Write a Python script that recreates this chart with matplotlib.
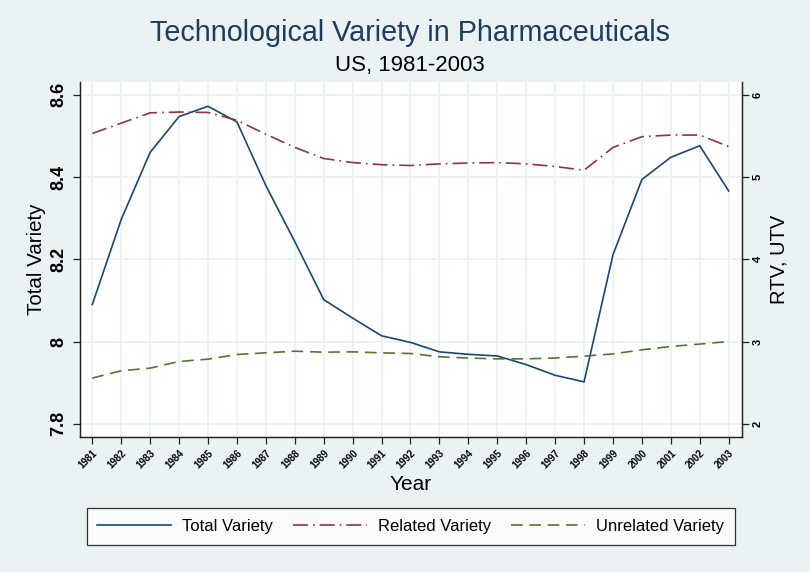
import numpy as np
import matplotlib
matplotlib.use("Agg")
import matplotlib.pyplot as plt
from matplotlib.lines import Line2D

# values
years = list(range(1981, 2004))
total_variety = [8.090, 8.297, 8.460, 8.547, 8.572, 8.534, 8.379, 8.243, 8.102, 8.057,
                 8.014, 7.998, 7.975, 7.969, 7.965, 7.944, 7.918, 7.902, 8.211, 8.394,
                 8.448, 8.476, 8.366]
related_variety = [5.53, 5.655, 5.78, 5.79, 5.785, 5.69, 5.52, 5.36, 5.225, 5.176,
                   5.15, 5.14, 5.16, 5.17, 5.175, 5.16, 5.128, 5.083, 5.36, 5.49,
                   5.51, 5.51, 5.37]
unrelated_variety = [2.556, 2.645, 2.677, 2.758, 2.786, 2.843, 2.863, 2.883, 2.871, 2.875,
                     2.863, 2.855, 2.815, 2.80, 2.79, 2.79, 2.80, 2.823, 2.85, 2.90,
                     2.94, 2.97, 3.0]
left_ticks = [7.8, 8.0, 8.2, 8.4, 8.6]
left_labels = ["7.8", "8", "8.2", "8.4", "8.6"]
right_ticks = [2, 3, 4, 5, 6]

BG = "#EAF2F3"
NAVY = "#1A476F"
MAROON = "#90353B"
GREEN = "#55752F"

plt.rcParams['font.family'] = ['Liberation Sans', 'DejaVu Sans']

fig = plt.figure(figsize=(8.1, 5.72), dpi=100, facecolor=BG)
ax = fig.add_axes([80 / 810, 1 - 437 / 572, 661.7 / 810, 355 / 572])
ax.set_facecolor("white")

ax.plot(years, total_variety, color=NAVY, lw=1.2, solid_joinstyle="miter")
ax.set_xlim(1980.575, 2003.45)
ax.set_ylim(7.768, 8.631)
ax.set_yticks(left_ticks)
ax.set_yticklabels(left_labels, rotation=90, va="center", fontsize=13, fontweight="bold")
ax.set_xticks(years)
ax.set_xticklabels([str(y) for y in years], rotation=45, ha="right", rotation_mode="anchor",
                   fontsize=7, fontweight="bold")
ax.grid(True, color=BG, lw=1.3)
ax.set_axisbelow(True)
ax.tick_params(axis="both", direction="out", length=5, width=0.9, color="#222222")
ax.tick_params(axis="x", pad=3)
ax.tick_params(axis="y", pad=4)
ax.spines["top"].set_visible(False)
for s in ["left", "right", "bottom"]:
    ax.spines[s].set_color("#222222")
    ax.spines[s].set_linewidth(0.9)
ax.set_ylabel("Total Variety", fontsize=14.8, labelpad=3)
ax.set_xlabel("Year", fontsize=15, labelpad=3)

ax2 = ax.twinx()
ax2.plot(years, related_variety, color=MAROON, lw=1.2, dashes=(9, 3, 1, 3))
ax2.plot(years, unrelated_variety, color=GREEN, lw=1.2, dashes=(7, 4))
ax2.set_ylim(2 + (7.768 - 7.8) * 5, 2 + (8.631 - 7.8) * 5)
ax2.set_yticks(right_ticks)
ax2.set_yticklabels([str(t) for t in right_ticks], rotation=90, va="center",
                    fontsize=8, fontweight="bold")
ax2.tick_params(axis="y", direction="out", length=5, width=0.9, color="#222222", pad=3)
ax2.spines["top"].set_visible(False)
for s in ["left", "right", "bottom"]:
    ax2.spines[s].set_color("#222222")
    ax2.spines[s].set_linewidth(0.9)
ax2.set_ylabel("RTV, UTV", fontsize=14.5, labelpad=5)

fig.text(0.506, 1 - 33 / 572, "Technological Variety in Pharmaceuticals", ha="center", va="center",
         fontsize=20.7, color="#1F3B5E")
fig.text(0.506, 1 - 65 / 572, "US, 1981-2003", ha="center", va="center", fontsize=16, color="black")

handles = [Line2D([], [], color=NAVY, lw=1.2),
           Line2D([], [], color=MAROON, lw=1.2, dashes=(9, 3, 1, 3)),
           Line2D([], [], color=GREEN, lw=1.2, dashes=(7, 4))]
leg = fig.legend(handles, ["Total Variety", "Related Variety", "Unrelated Variety"],
                 loc="center", bbox_to_anchor=(411 / 810, 1 - 526.5 / 572),
                 ncol=3, fontsize=12, frameon=True, fancybox=False, handlelength=4.4,
                 columnspacing=1.2, handletextpad=0.7, borderaxespad=0, borderpad=0.65)
leg.get_frame().set_edgecolor("black")
leg.get_frame().set_linewidth(0.9)
leg.get_frame().set_facecolor("white")

fig.savefig("out.png", dpi=100, facecolor=BG)
